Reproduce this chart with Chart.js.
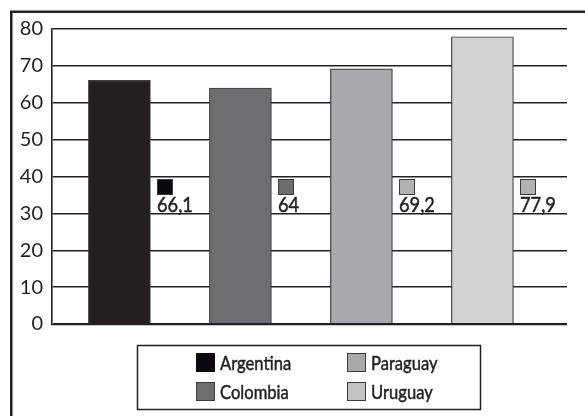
<!DOCTYPE html>
<html>
<head>
<meta charset="utf-8">
<script src="https://cdn.jsdelivr.net/npm/chart.js@4/dist/chart.umd.min.js"></script>
<style>
    body { margin: 0; padding: 0; background: #fff; overflow: hidden; }
    #chartCanvas { display: block; }
</style>
</head>
<body>
<canvas id="chartCanvas" width="585" height="416"></canvas>
<script>
// Life expectancy values per country
const countries = ['Argentina', 'Colombia', 'Paraguay', 'Uruguay'];
const values = [66.1, 64, 69.2, 77.9];
const yTicks = [0, 10, 20, 30, 40, 50, 60, 70, 80];

const barColors = ['#231f20', '#6d6e71', '#a7a9ac', '#d1d3d4'];
const keyColors = ['#0d0710', '#6d6d6d', '#b1b1b1', '#b1b1b1'];
const legendColors = ['#0d0710', '#6e6e6e', '#a9a9a9', '#c3c3c3'];

const INK = '#231f20';
const FONT = 'Lato, "Open Sans", sans-serif';
// condensed look for labels: squeeze text horizontally
const SQUEEZE = 0.83;

const formatValue = (v) => String(v).replace('.', ',');

const narrowText = (ctx, text, x, y) => {
    ctx.save();
    ctx.translate(x, y);
    ctx.scale(SQUEEZE, 1);
    ctx.strokeStyle = INK;
    ctx.lineWidth = 0.5;
    ctx.fillText(text, 0, 0);
    ctx.strokeText(text, 0, 0);
    ctx.restore();
};

// Frame around the whole chart (open to the right and bottom)
const framePlugin = {
    id: 'frame',
    beforeDraw: (chart) => {
        const ctx = chart.ctx;
        ctx.save();
        ctx.fillStyle = '#fff';
        ctx.fillRect(0, 0, chart.width, chart.height);
        ctx.strokeStyle = INK;
        ctx.lineWidth = 2.5;
        ctx.strokeRect(11.25, 11.75, chart.width + 20, chart.height + 20);
        ctx.restore();
    },
};

// Value labels with a small colour key, set beside each bar
const valueLabelPlugin = {
    id: 'valueLabels',
    afterDatasetsDraw: (chart) => {
        const ctx = chart.ctx;
        const yScale = chart.scales.y;
        const meta = chart.getDatasetMeta(0);
        const top = Math.round(yScale.getPixelForValue(39.4));
        ctx.save();
        meta.data.forEach((bar, i) => {
            const x = Math.round(bar.x + 37.5);
            ctx.fillStyle = keyColors[i];
            ctx.fillRect(x, top, 16, 16);
            ctx.strokeStyle = '#3a3a3a';
            ctx.lineWidth = 1;
            ctx.strokeRect(x + 0.5, top + 0.5, 15, 15);
            ctx.fillStyle = INK;
            ctx.font = '22px ' + FONT;
            ctx.textAlign = 'left';
            ctx.textBaseline = 'alphabetic';
            narrowText(ctx, formatValue(values[i]), x, top + 33);
        });
        ctx.restore();
    },
};

// Boxed legend under the plot, two columns
const boxLegendPlugin = {
    id: 'boxLegend',
    afterDraw: (chart) => {
        const ctx = chart.ctx;
        ctx.save();
        ctx.strokeStyle = INK;
        ctx.lineWidth = 1.5;
        ctx.strokeRect(137.5, 345.5, 343, 64);
        ctx.font = '20px ' + FONT;
        ctx.textBaseline = 'alphabetic';
        countries.forEach((name, i) => {
            const col = Math.floor(i / 2);
            const row = i % 2;
            const sx = 196 + col * 151;
            const sy = 353 + row * 29;
            ctx.fillStyle = legendColors[i];
            ctx.fillRect(sx, sy, 19, 19);
            if (i > 0) {
                ctx.strokeStyle = '#3a3a3a';
                ctx.lineWidth = 1;
                ctx.strokeRect(sx + 0.5, sy + 0.5, 18, 18);
            }
            ctx.fillStyle = INK;
            narrowText(ctx, name, sx + 24, sy + 16.5);
        });
        ctx.restore();
    },
};

const ctx = document.getElementById('chartCanvas').getContext('2d');
new Chart(ctx, {
    type: 'bar',
    data: {
        datasets: [{
            data: values.map((v, i) => ({ x: i, y: v })),
            backgroundColor: barColors,
            borderColor: '#3a3a3a',
            borderWidth: 1.2,
            barThickness: 62,
        }],
    },
    options: {
        responsive: false,
        devicePixelRatio: 1,
        animation: false,
        layout: {
            padding: { left: 0, top: 29, right: 18, bottom: 92 },
        },
        plugins: {
            legend: { display: false },
            tooltip: { enabled: false },
        },
        scales: {
            x: {
                type: 'linear',
                display: false,
                offset: false,
                min: -0.557,
                max: 3.699,
            },
            y: {
                min: 0,
                max: 80,
                afterBuildTicks: (scale) => {
                    scale.ticks = yTicks.map((v) => ({ value: v }));
                },
                afterFit: (scale) => {
                    scale.width = 52;
                },
                grid: {
                    color: INK,
                    lineWidth: (c) => (c.tick && c.tick.value === 0 ? 2.2 : 1.4),
                    drawTicks: false,
                },
                border: { display: true, color: INK, width: 1.6 },
                ticks: {
                    color: INK,
                    padding: 9,
                    font: { family: FONT, size: 20 },
                },
            },
        },
    },
    plugins: [framePlugin, valueLabelPlugin, boxLegendPlugin],
});
</script>
</body>
</html>
